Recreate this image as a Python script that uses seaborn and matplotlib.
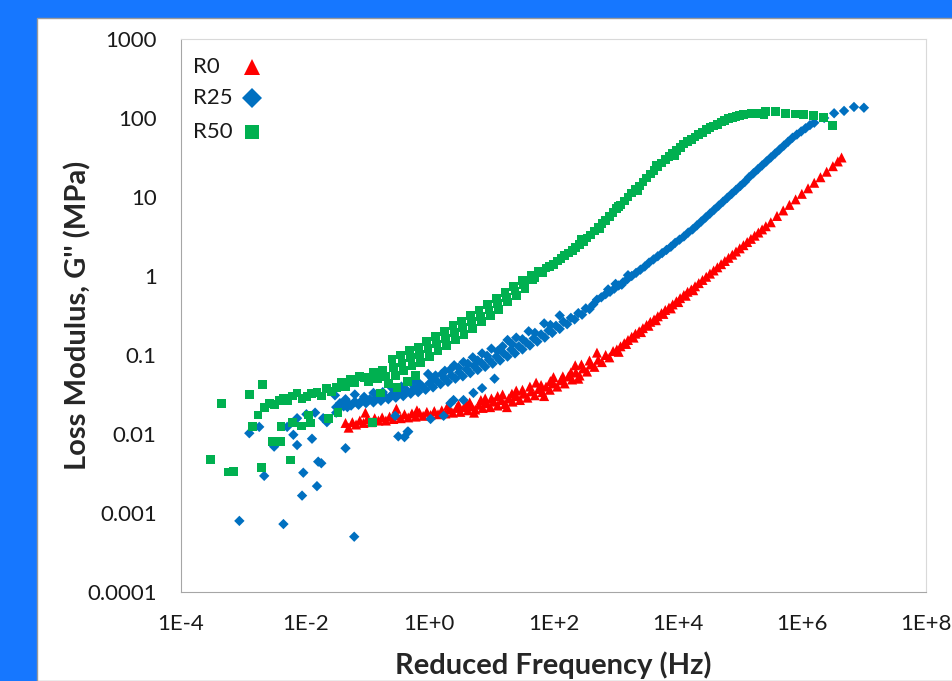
import numpy as np
import pandas as pd
import matplotlib
matplotlib.use("Agg")
import matplotlib.pyplot as plt
import seaborn as sns
from matplotlib.lines import Line2D
from matplotlib.patches import Rectangle
from matplotlib.ticker import NullLocator

# values as (log10 frequency [Hz], log10 G'' [MPa])
r0_points = [
    (-1.35, -1.86), (-1.30, -1.92), (-1.24, -1.85), (-1.18, -1.88), (-1.12, -1.83), (-1.06, -1.86),
    (-1.00, -1.81), (-0.94, -1.85), (-0.88, -1.80), (-0.82, -1.83), (-0.76, -1.79), (-0.70, -1.83),
    (-0.64, -1.78), (-0.58, -1.81), (-0.52, -1.76), (-0.46, -1.80), (-0.40, -1.75), (-0.34, -1.79),
    (-0.28, -1.74), (-0.22, -1.78), (-0.16, -1.73), (-0.10, -1.77), (-0.04, -1.72), (0.02, -1.76),
    (0.08, -1.71), (0.14, -1.75), (0.20, -1.70), (0.26, -1.74), (0.32, -1.69), (0.38, -1.73),
    (0.44, -1.67), (0.50, -1.72), (0.56, -1.66), (0.62, -1.70), (0.68, -1.65), (0.74, -1.69),
    (0.80, -1.63), (0.86, -1.67), (0.92, -1.61), (0.98, -1.66), (1.04, -1.59), (1.10, -1.64),
    (1.16, -1.57), (1.22, -1.62), (1.28, -1.55), (1.34, -1.59), (1.40, -1.52), (1.46, -1.57),
    (1.52, -1.49), (1.58, -1.54), (1.64, -1.46), (1.70, -1.51), (1.76, -1.43), (1.82, -1.47),
    (1.88, -1.40), (1.94, -1.44), (2.00, -1.36), (2.06, -1.40), (2.12, -1.32), (2.18, -1.36),
    (2.24, -1.27), (2.30, -1.31), (2.36, -1.22), (2.42, -1.26), (2.48, -1.17), (2.54, -1.21),
    (2.60, -1.12), (2.66, -1.15), (2.72, -1.06), (2.78, -1.09), (2.84, -1.00), (2.90, -1.03),
    (2.96, -0.95),
    (-1.03, -1.73), (-0.53, -1.68), (0.30, -1.64), (0.90, -1.55), (1.40, -1.45), (1.72, -1.35),
    (2.00, -1.28), (2.35, -1.13), (2.70, -0.97), (0.60, -1.62), (-0.20, -1.70), (1.10, -1.52),
    (0.47, -1.63), (0.65, -1.60), (0.83, -1.57), (1.00, -1.55), (1.18, -1.50), (1.33, -1.49),
    (1.50, -1.44), (1.62, -1.40), (1.80, -1.38), (1.95, -1.33), (2.15, -1.27), (2.28, -1.22),
    (2.45, -1.12), (2.58, -1.07), (0.72, -1.73), (1.25, -1.66), (1.85, -1.52), (2.40, -1.30),
    (3.02, -0.93), (3.08, -0.89), (3.14, -0.85), (3.20, -0.81), (3.26, -0.77), (3.32, -0.73),
    (3.38, -0.70), (3.44, -0.66), (3.50, -0.62), (3.56, -0.58), (3.62, -0.55), (3.68, -0.51),
    (3.74, -0.47), (3.80, -0.43), (3.86, -0.40), (3.92, -0.36), (3.98, -0.32), (4.04, -0.28),
    (4.10, -0.24), (4.16, -0.20), (4.22, -0.17), (4.28, -0.13), (4.34, -0.09), (4.40, -0.05),
    (4.46, -0.01), (4.52, 0.03), (4.58, 0.07), (4.64, 0.11), (4.70, 0.15), (4.76, 0.19),
    (4.82, 0.23), (4.88, 0.27), (4.94, 0.31), (5.00, 0.35), (5.06, 0.39), (5.12, 0.43),
    (5.18, 0.47), (5.24, 0.51), (5.30, 0.55), (5.36, 0.59), (5.42, 0.63), (5.50, 0.68),
    (5.60, 0.76), (5.70, 0.83), (5.80, 0.90), (5.90, 0.97), (6.00, 1.04), (6.10, 1.11),
    (6.20, 1.18), (6.30, 1.25), (6.40, 1.32), (6.50, 1.39), (6.58, 1.45), (6.64, 1.50),
    (3.05, -0.96), (3.17, -0.86), (3.29, -0.78), (3.41, -0.71), (3.53, -0.63), (3.65, -0.56),
    (3.77, -0.48), (3.89, -0.41), (4.01, -0.33), (4.13, -0.25), (4.25, -0.18),
]

r25_points = [
    (-3.06, -3.10), (-2.35, -3.14), (-1.21, -3.30), (-2.66, -2.53), (-2.05, -2.78), (-1.81, -2.66),
    (-2.03, -2.49), (-1.79, -2.35), (-1.74, -2.37), (-2.13, -2.14), (-2.50, -2.16), (-2.19, -2.01),
    (-1.89, -2.06), (-1.35, -2.18), (-2.90, -1.99), (-2.74, -1.91), (-2.29, -1.91), (-2.13, -1.80),
    (-1.98, -1.75), (-1.84, -1.73), (-1.71, -1.80), (-1.65, -1.85), (-0.50, -2.03), (-0.40, -2.04),
    (-0.34, -1.97), (-0.55, -1.77), (-1.50, -1.73), (-1.45, -1.67), (-1.32, -1.66),
    (-1.50, -1.66), (-1.44, -1.61), (-1.38, -1.65), (-1.32, -1.60), (-1.26, -1.64), (-1.20, -1.59),
    (-1.14, -1.63), (-1.08, -1.57), (-1.02, -1.61), (-0.96, -1.56), (-0.90, -1.60), (-0.84, -1.54),
    (-0.78, -1.58), (-0.72, -1.52), (-0.66, -1.56), (-0.60, -1.50), (-0.54, -1.54), (-0.48, -1.47),
    (-0.42, -1.52), (-0.36, -1.45), (-0.30, -1.49), (-0.24, -1.42), (-0.18, -1.47), (-0.12, -1.39),
    (-0.06, -1.44), (0.00, -1.36), (0.06, -1.41), (0.12, -1.33), (0.18, -1.37), (0.24, -1.29),
    (0.30, -1.34), (0.36, -1.26), (0.42, -1.30), (0.48, -1.22), (0.54, -1.27), (0.60, -1.18),
    (0.66, -1.23), (0.72, -1.14), (0.78, -1.19), (0.84, -1.10), (0.90, -1.15), (0.96, -1.06),
    (1.02, -1.11), (1.08, -1.02), (1.14, -1.07), (1.20, -0.98), (1.26, -1.02), (1.32, -0.93),
    (1.38, -0.98), (1.44, -0.89), (1.50, -0.93), (1.56, -0.84), (1.62, -0.88), (1.68, -0.79),
    (1.74, -0.83), (1.80, -0.74), (1.86, -0.78), (1.92, -0.69), (1.98, -0.72), (2.04, -0.63),
    (2.10, -0.67), (2.16, -0.58), (2.22, -0.61), (2.28, -0.53), (2.34, -0.55), (2.40, -0.47),
    (2.46, -0.49), (2.52, -0.41), (2.58, -0.42), (2.64, -0.36),
    (-1.52, -1.51), (-1.20, -1.50), (-0.90, -1.48), (-0.60, -1.42), (-0.30, -1.35), (-0.15, -1.38),
    (-0.02, -1.24), (0.10, -1.26), (0.25, -1.20), (0.40, -1.13), (0.55, -1.09), (0.70, -1.03),
    (0.85, -0.98), (1.00, -0.92), (1.26, -0.81), (1.40, -0.78), (1.60, -0.70), (1.85, -0.60),
    (2.10, -0.50),
    (-1.35, -1.56), (-1.05, -1.53), (-0.75, -1.47), (-0.45, -1.40), (-0.20, -1.33), (0.05, -1.30),
    (0.20, -1.24), (0.33, -1.19), (0.47, -1.16), (0.62, -1.11), (0.78, -1.07), (0.93, -1.01),
    (1.10, -0.95), (1.18, -0.89), (1.33, -0.86), (1.50, -0.80), (1.70, -0.72), (1.95, -0.62),
    (0.02, -1.81), (0.23, -1.77), (0.39, -1.57), (0.55, -1.57), (0.71, -1.48), (0.85, -1.42),
    (-0.35, -1.97), (0.34, -1.61), (1.05, -1.30),
    (2.70, -0.30), (2.77, -0.27), (2.84, -0.23), (2.91, -0.20), (2.98, -0.16), (3.05, -0.12),
    (3.12, -0.08), (3.19, -0.04), (3.26, 0.00), (3.33, 0.04), (3.40, 0.08), (3.47, 0.12),
    (3.54, 0.17), (3.61, 0.21), (3.68, 0.25), (3.75, 0.29), (3.82, 0.33), (3.89, 0.37),
    (3.96, 0.42), (4.03, 0.46), (4.10, 0.50), (4.17, 0.55), (4.24, 0.59), (4.31, 0.64),
    (4.38, 0.69), (4.45, 0.74), (4.52, 0.79), (4.59, 0.84), (4.66, 0.89), (4.73, 0.94),
    (4.80, 0.99), (4.87, 1.04), (4.94, 1.09), (5.01, 1.14), (5.08, 1.19), (5.15, 1.25),
    (5.22, 1.30), (5.29, 1.35), (5.36, 1.40), (5.43, 1.45), (5.50, 1.50), (5.57, 1.55),
    (5.64, 1.60), (5.71, 1.65), (5.78, 1.70), (5.85, 1.75), (5.92, 1.79), (5.99, 1.83),
    (6.06, 1.87), (6.13, 1.91), (6.20, 1.94), (6.36, 2.00), (6.52, 2.06), (6.68, 2.09),
    (6.84, 2.14), (7.00, 2.13),
    (2.88, -0.17), (3.00, -0.10), (3.10, -0.11), (3.20, 0.01),
]

r50_points = [
    (-3.52, -2.32), (-3.35, -1.61), (-3.24, -2.48), (-3.16, -2.47), (-2.90, -1.50), (-2.69, -1.37),
    (-2.76, -1.76), (-2.85, -1.91), (-2.70, -2.42), (-2.53, -2.09), (-2.39, -2.09), (-2.39, -1.91),
    (-2.23, -2.33), (-2.21, -1.85), (-2.06, -1.90), (-1.94, -1.76), (-1.92, -1.86), (-1.63, -1.80),
    (-1.47, -1.73), (-0.92, -1.85), (-0.79, -1.48),
    (-2.65, -1.66), (-2.58, -1.61), (-2.50, -1.63), (-2.42, -1.58), (-2.35, -1.55), (-2.28, -1.58),
    (-2.20, -1.52), (-2.13, -1.48), (-2.05, -1.55), (-1.97, -1.53), (-1.90, -1.49), (-1.81, -1.47),
    (-1.74, -1.52), (-1.66, -1.42), (-1.58, -1.46), (-1.49, -1.41), (-1.42, -1.35), (-1.35, -1.40),
    (-1.27, -1.31), (-1.20, -1.35), (-1.12, -1.27), (-1.04, -1.28), (-0.98, -1.34), (-0.90, -1.22),
    (-0.84, -1.30), (-0.76, -1.19), (-0.70, -1.27), (-0.66, -1.36), (-0.52, -1.41), (-0.35, -1.34),
    (-0.22, -1.26),
    (-0.60, -1.05), (-0.58, -1.16), (-0.55, -1.26), (-0.46, -1.00), (-0.44, -1.10), (-0.42, -1.20),
    (-0.32, -0.94), (-0.30, -1.03), (-0.28, -1.14), (-0.18, -0.90), (-0.16, -0.99), (-0.14, -1.09),
    (-0.04, -0.83), (-0.02, -0.92), (0.00, -1.02), (0.10, -0.77), (0.12, -0.86), (0.14, -0.95),
    (0.24, -0.70), (0.26, -0.79), (0.28, -0.88), (0.38, -0.63), (0.40, -0.72), (0.42, -0.81),
    (0.52, -0.57), (0.54, -0.65), (0.56, -0.74), (0.66, -0.50), (0.68, -0.58), (0.70, -0.66),
    (0.80, -0.43), (0.82, -0.51), (0.84, -0.58), (0.94, -0.36), (0.96, -0.43), (0.98, -0.50),
    (1.08, -0.28), (1.10, -0.35), (1.12, -0.42), (1.22, -0.21), (1.24, -0.27), (1.26, -0.33),
    (1.36, -0.13), (1.38, -0.19), (1.40, -0.25), (1.50, -0.06), (1.52, -0.11), (1.54, -0.16),
    (1.64, 0.01), (1.66, -0.04), (1.70, -0.02), (1.76, 0.06), (1.82, 0.04), (1.88, 0.10),
    (1.94, 0.12), (2.00, 0.15), (2.06, 0.19), (2.12, 0.22), (2.18, 0.26), (2.24, 0.29),
    (2.30, 0.32), (2.36, 0.36), (2.42, 0.40), (2.48, 0.44), (2.54, 0.48), (2.60, 0.52),
    (2.66, 0.57), (2.72, 0.61), (2.78, 0.66), (2.84, 0.70), (2.90, 0.75), (2.96, 0.80),
    (3.02, 0.85), (3.08, 0.90), (3.14, 0.95), (3.20, 1.00), (3.26, 1.05), (3.32, 1.10),
    (3.38, 1.14), (3.44, 1.19), (3.50, 1.24), (3.56, 1.29), (3.62, 1.34), (3.68, 1.38),
    (3.74, 1.43), (3.80, 1.47), (3.86, 1.51), (3.92, 1.55), (3.98, 1.59), (4.04, 1.63),
    (4.10, 1.67), (4.16, 1.70), (4.22, 1.73), (4.28, 1.76), (4.34, 1.79), (4.40, 1.82),
    (4.46, 1.85), (4.52, 1.88), (4.58, 1.90), (4.64, 1.92), (4.70, 1.95), (4.76, 1.97),
    (4.82, 1.99), (4.88, 2.01), (4.94, 2.02), (5.00, 2.03), (5.06, 2.04), (5.12, 2.05),
    (5.18, 2.06), (5.24, 2.06), (5.30, 2.06), (5.39, 2.04), (5.42, 2.08), (5.58, 2.08),
    (5.74, 2.06), (5.89, 2.05), (6.03, 2.04), (6.19, 2.03), (6.35, 2.01), (6.50, 1.91),
    (2.45, 0.46), (2.75, 0.60), (3.05, 0.88), (3.35, 1.08), (3.65, 1.40), (3.95, 1.53),
]

series_names = ["R0", "R25", "R50"]
series_colors = {"R0": "#FF0000", "R25": "#0070C0", "R50": "#00B050"}
series_markers = {"R0": "^", "R25": "D", "R50": "s"}
series_sizes = {"R0": 52, "R25": 28, "R50": 40}

x_ticks = [1e-4, 1e-2, 1e0, 1e2, 1e4, 1e6, 1e8]
x_labels = ["1E-4", "1E-2", "1E+0", "1E+2", "1E+4", "1E+6", "1E+8"]
y_ticks = [1e-4, 1e-3, 1e-2, 1e-1, 1e0, 1e1, 1e2, 1e3]
y_labels = ["0.0001", "0.001", "0.01", "0.1", "1", "10", "100", "1000"]


def to_frame(name, pts):
    df = pd.DataFrame(pts, columns=["log_f", "log_g"])
    df["freq"] = 10 ** df["log_f"]
    df["loss"] = 10 ** df["log_g"]
    df["mix"] = name
    return df


data = pd.concat([to_frame("R0", r0_points),
                  to_frame("R25", r25_points),
                  to_frame("R50", r50_points)], ignore_index=True)

sns.set_style("white")
plt.rcParams["font.family"] = ["Lato", "DejaVu Sans"]

fig = plt.figure(figsize=(9.53, 6.81), dpi=100)
fig.patch.set_facecolor("#1677FF")
panel = Rectangle((37 / 953, 0), 1 - 37 / 953, 1 - 18 / 681,
                  transform=fig.transFigure, facecolor="white",
                  edgecolor="#9a9a9a", linewidth=1, zorder=-10)
fig.add_artist(panel)

ax = fig.add_axes([181 / 953, 1 - 592 / 681, 745 / 953, 553 / 681])
ax.set_zorder(5)
sns.scatterplot(data=data, x="freq", y="loss", hue="mix", style="mix", size="mix",
                palette=series_colors, markers=series_markers, sizes=series_sizes,
                linewidth=0, legend=False, ax=ax)

ax.set_xscale("log")
ax.set_yscale("log")
ax.set_xlim(1e-4, 1e8)
ax.set_ylim(1e-4, 1e3)
ax.set_xticks(x_ticks)
ax.set_xticklabels(x_labels)
ax.set_yticks(y_ticks)
ax.set_yticklabels(y_labels)
ax.xaxis.set_minor_locator(NullLocator())
ax.yaxis.set_minor_locator(NullLocator())
ax.tick_params(axis="both", which="major", direction="out", length=6, width=1,
               color="#a6a6a6", labelsize=16, labelcolor="#1a1a1a")
ax.tick_params(axis="x", pad=10)
ax.tick_params(axis="y", pad=11.5)

for side in ["left", "bottom"]:
    ax.spines[side].set_color("#a6a6a6")
for side in ["top", "right"]:
    ax.spines[side].set_color("#d9d9d9")

ax.set_xlabel("Reduced Frequency (Hz)", fontsize=21, fontweight="bold")
ax.set_ylabel("Loss Modulus, G'' (MPa)", fontsize=21, fontweight="bold")
ax.xaxis.set_label_coords(0.5, -0.108)
ax.yaxis.set_label_coords(-0.12, 0.5)

# legend: left-aligned labels with the symbol to their right
legend_rows = [0.949, 0.893, 0.832]
legend_msize = {"R0": 11, "R25": 10, "R50": 9.5}
for name, yrow in zip(series_names, legend_rows):
    ax.text(0.016, yrow, name, transform=ax.transAxes, fontsize=16,
            ha="left", va="center", color="#1a1a1a")
    ax.add_line(Line2D([0.0953], [yrow], transform=ax.transAxes, linestyle="none",
                       marker=series_markers[name], color=series_colors[name],
                       markersize=legend_msize[name], markeredgewidth=0, clip_on=False))

fig.savefig("out.png", dpi=100)
